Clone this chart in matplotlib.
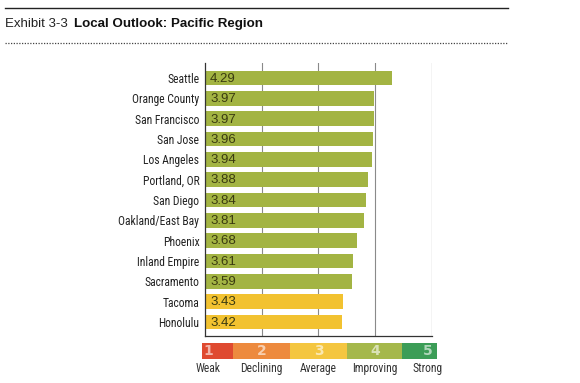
import matplotlib
matplotlib.use("Agg")
import matplotlib.pyplot as plt
from matplotlib import font_manager
from matplotlib.font_manager import FontProperties
from matplotlib.patches import Rectangle
from matplotlib.lines import Line2D

cities = ['Seattle', 'Orange County', 'San Francisco', 'San Jose', 'Los Angeles',
          'Portland, OR', 'San Diego', 'Oakland/East Bay', 'Phoenix', 'Inland Empire',
          'Sacramento', 'Tacoma', 'Honolulu']
scores = [4.29, 3.97, 3.97, 3.96, 3.94, 3.88, 3.84, 3.81, 3.68, 3.61, 3.59, 3.43, 3.42]

scale_values = [1, 2, 3, 4, 5]
scale_labels = ['Weak', 'Declining', 'Average', 'Improving', 'Strong']
scale_colors = ['#df4a30', '#ed8a3e', '#f4c640', '#a5b84b', '#3c9d57']
# segment edges of the legend strip, in score units
scale_edges = [0.95, 1.49, 2.5, 3.5, 4.47, 5.08]

green = '#a3b443'
yellow = '#f2c230'

fig = plt.figure(figsize=(5.8, 3.83), dpi=100)
renderer = fig.canvas.get_renderer()

# look for a regular-weight narrow sans face; size it so the longest label is ~81 px wide
sans = ('Liberation Sans Narrow', 'Roboto Condensed', 'Open Sans Condensed',
        'Open Sans', 'Noto Sans', 'DejaVu Sans', 'Roboto')
narrow_files = []
for f in font_manager.fontManager.ttflist:
    if f.name not in sans or f.style != 'normal':
        continue
    if f.weight not in (400, 'normal', 'regular'):
        continue
    if f.stretch in ('condensed', 'semi-condensed') or 'Narrow' in f.name or 'Condensed' in f.name:
        narrow_files.append(f.fname)

def label_font(fname, size):
    if fname is None:
        return FontProperties(family='Liberation Sans', size=size)
    return FontProperties(fname=fname, size=size)

best_file, best_size = None, 0
for fname in [None] + narrow_files:
    t = fig.text(0, 0, 'Oakland/East Bay', fontproperties=label_font(fname, 10))
    w = t.get_window_extent(renderer).width
    t.remove()
    size = min(10 * 81 / w, 10.5)
    if size > best_size:
        best_file, best_size = fname, size

# header lines and title
fig.add_artist(Line2D([5/580, 508/580], [1 - 7.5/383] * 2, color='#222222', lw=1.0))
fig.add_artist(Line2D([5/580, 508/580], [1 - 42.5/383] * 2, color='#444444', lw=0.9,
                      linestyle=(0, (1, 1.2))))
t1 = fig.text(5/580, 1 - 24/383, 'Exhibit 3-3', fontsize=9.5, family='Liberation Sans',
              va='center', ha='left', color='#222222')
bb = t1.get_window_extent(renderer)
fig.text((bb.x1 + 6) / 580, 1 - 24/383, 'Local Outlook: Pacific Region', fontsize=9.6,
         family='Liberation Sans', fontweight='bold', va='center', ha='left', color='#111111')

# main bar chart
ax = fig.add_axes([205/580, (383 - 336)/383, 227/580, 273/383])
ypos = list(range(len(cities)))
colors = [green if s >= 3.5 else yellow for s in scores]
ax.barh(ypos, [s - 1 for s in scores], left=1, height=0.72, color=colors, zorder=2)
for y, s in zip(ypos, scores):
    ax.text(1.09, y + 0.04, f'{s:.2f}', va='center', ha='left', fontsize=9.5,
            family='Liberation Sans', color='#3a3a10', zorder=3)

ax.set_xlim(1, 5)
ax.set_ylim(len(cities) - 1 + 0.69, -0.74)
ax.set_yticks(ypos)
ax.set_yticklabels(cities, color='#222222', fontproperties=label_font(best_file, best_size))
ax.tick_params(axis='y', length=0, pad=4)
ax.set_xticks([])
for x in [2, 3, 4]:
    ax.axvline(x, color='#8a8a8a', lw=0.8, zorder=1)
ax.axvline(5, color='#c8c8c8', lw=1.0, zorder=1)
for side in ['top', 'right']:
    ax.spines[side].set_visible(False)
ax.spines['left'].set_color('#333333')
ax.spines['bottom'].set_color('#333333')
ax.spines['left'].set_linewidth(0.9)
ax.spines['bottom'].set_linewidth(0.9)

# legend strip sharing the score scale
lg = fig.add_axes([205/580, (383 - 359)/383, 227/580, 16/383])
lg.set_xlim(1, 5)
lg.set_ylim(0, 1)
lg.axis('off')
for i in range(len(scale_values)):
    lg.add_patch(Rectangle((scale_edges[i], 0), scale_edges[i + 1] - scale_edges[i], 1,
                           color=scale_colors[i], clip_on=False, lw=0))
    xv = scale_values[i]
    if i == 0:
        xv = 1.05
    if i == 4:
        xv = 4.93
    lg.text(xv, 0.5, str(scale_values[i]), ha='center', va='center', fontsize=10,
            fontweight='bold', color='white', alpha=0.6, clip_on=False)
    lg.text(xv, -0.6, scale_labels[i], ha='center', va='center', color='#333333',
            clip_on=False, fontproperties=label_font(best_file, best_size))

fig.savefig('out.png', dpi=100, facecolor='white')
